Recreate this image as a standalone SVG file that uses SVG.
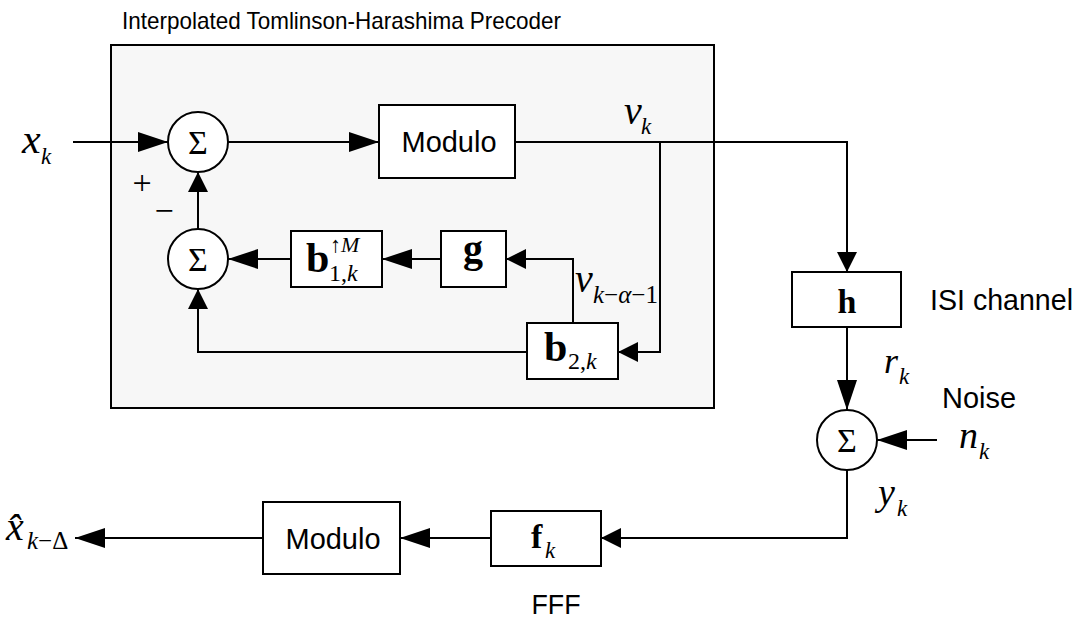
<svg xmlns="http://www.w3.org/2000/svg" width="1080" height="623" viewBox="0 0 1080 623">
<defs>
<style>
.ln{stroke:#000;stroke-width:2;fill:none}
.box{fill:#fff;stroke:#000;stroke-width:2}
.sans{font-family:"Liberation Sans",Arial,sans-serif;fill:#000}
.it{font-family:"Liberation Serif","Times New Roman",serif;font-style:italic;fill:#000}
.rm{font-family:"Liberation Serif","Times New Roman",serif;font-style:normal;fill:#000}
.bf{font-family:"Liberation Serif","Times New Roman",serif;font-weight:bold;fill:#000}
</style>
<marker id="al" viewBox="0 0 30 20" markerWidth="30" markerHeight="20" refX="30" refY="10" orient="auto" markerUnits="userSpaceOnUse"><path d="M0,0 L30,10 L0,20 Z" fill="#000"/></marker>
<marker id="as" viewBox="0 0 20 20" markerWidth="20" markerHeight="20" refX="20" refY="10" orient="auto" markerUnits="userSpaceOnUse"><path d="M0,0 L20,10 L0,20 Z" fill="#000"/></marker>
</defs>
<rect width="1080" height="623" fill="#fff"/>
<g id="precoder">
<rect x="111" y="45" width="603" height="363" fill="#f7f7f7" stroke="#000" stroke-width="2"/>
<text class="sans" x="122" y="29" font-size="24" textLength="439" lengthAdjust="spacingAndGlyphs">Interpolated Tomlinson-Harashima Precoder</text>
</g>
<g id="connectors">
<path class="ln" d="M73,142 H168" marker-end="url(#al)"/>
<path class="ln" d="M228,142 H379" marker-end="url(#al)"/>
<path class="ln" d="M515,142 H847 V272" marker-end="url(#as)"/>
<path class="ln" d="M660,142 V352 H618" marker-end="url(#as)"/>
<path class="ln" d="M573,323 V259 H506" marker-end="url(#as)"/>
<path class="ln" d="M441,259 H382" marker-end="url(#al)"/>
<path class="ln" d="M291,259 H228" marker-end="url(#al)"/>
<path class="ln" d="M198,229 V172" marker-end="url(#as)"/>
<path class="ln" d="M527,352 H198 V289" marker-end="url(#as)"/>
<path class="ln" d="M847,327 V410" marker-end="url(#al)"/>
<path class="ln" d="M937,440 H877" marker-end="url(#al)"/>
<path class="ln" d="M847,470 V538 H601" marker-end="url(#as)"/>
<path class="ln" d="M491,538 H400" marker-end="url(#al)"/>
<path class="ln" d="M263,538 H75" marker-end="url(#al)"/>
</g>
<g id="sum1">
<circle cx="198" cy="142" r="30" fill="#fff" stroke="#000" stroke-width="2"/>
<text class="rm" x="198" y="154" font-size="34" text-anchor="middle">Σ</text>
</g>
<g id="sum2">
<circle cx="198" cy="259" r="30" fill="#fff" stroke="#000" stroke-width="2"/>
<text class="rm" x="198" y="271" font-size="34" text-anchor="middle">Σ</text>
</g>
<g id="signs">
<text class="rm" x="142" y="194" font-size="34" text-anchor="middle">+</text>
<text class="rm" x="164" y="222" font-size="34" text-anchor="middle">−</text>
</g>
<g id="modulo1">
<rect class="box" x="379" y="105" width="136" height="73"/>
<text class="sans" x="449" y="152" font-size="29" text-anchor="middle" textLength="95" lengthAdjust="spacingAndGlyphs">Modulo</text>
</g>
<g id="b1">
<rect class="box" x="291" y="231" width="91" height="56"/>
<text class="bf" x="306" y="272" font-size="42">b</text>
<text class="rm" x="330" y="252" font-size="22">↑<tspan class="it">M</tspan></text>
<text class="rm" x="329" y="281" font-size="24">1,<tspan class="it">k</tspan></text>
</g>
<g id="g">
<rect class="box" x="441" y="231" width="65" height="56"/>
<text class="bf" x="473" y="262" font-size="40" text-anchor="middle">g</text>
</g>
<g id="b2">
<rect class="box" x="527" y="323" width="91" height="56"/>
<text class="bf" x="544" y="361" font-size="42">b</text>
<text class="rm" x="568" y="369" font-size="24">2,<tspan class="it">k</tspan></text>
</g>
<g id="labels-precoder">
<text class="it" x="22" y="153" font-size="42">x</text>
<text class="it" x="41" y="164" font-size="23">k</text>
<text class="it" x="624" y="124" font-size="40">v</text>
<text class="it" x="641" y="134" font-size="23">k</text>
<text class="it" x="575" y="292" font-size="40">v</text>
<text class="it" x="593" y="303" font-size="25">k<tspan class="rm">−</tspan>α<tspan class="rm">−1</tspan></text>
</g>
<g id="h">
<rect class="box" x="792" y="272" width="109" height="55"/>
<text class="bf" x="847" y="313" font-size="34" text-anchor="middle">h</text>
<text class="sans" x="930" y="310" font-size="29" textLength="143" lengthAdjust="spacingAndGlyphs">ISI channel</text>
</g>
<g id="sum3">
<circle cx="847" cy="440" r="30" fill="#fff" stroke="#000" stroke-width="2"/>
<text class="rm" x="847" y="452" font-size="34" text-anchor="middle">Σ</text>
<text class="it" x="884" y="373" font-size="36">r</text>
<text class="it" x="899" y="384" font-size="23">k</text>
<text class="sans" x="942" y="408" font-size="29" textLength="74" lengthAdjust="spacingAndGlyphs">Noise</text>
<text class="it" x="959" y="448" font-size="38">n</text>
<text class="it" x="979" y="459" font-size="23">k</text>
<text class="it" x="878" y="505" font-size="38">y</text>
<text class="it" x="897" y="516" font-size="23">k</text>
</g>
<g id="f">
<rect class="box" x="491" y="511" width="110" height="55"/>
<text class="bf" x="531" y="548" font-size="34">f</text>
<text class="it" x="545" y="558" font-size="23">k</text>
<text class="sans" x="556" y="614" font-size="28" text-anchor="middle" textLength="49" lengthAdjust="spacingAndGlyphs">FFF</text>
</g>
<g id="modulo2">
<rect class="box" x="263" y="502" width="137" height="72"/>
<text class="sans" x="333" y="549" font-size="29" text-anchor="middle" textLength="95" lengthAdjust="spacingAndGlyphs">Modulo</text>
</g>
<g id="output">
<text class="it" x="6" y="540" font-size="40">x&#770;</text>
<text class="it" x="27" y="549" font-size="25">k<tspan class="rm">−Δ</tspan></text>
</g>
</svg>
